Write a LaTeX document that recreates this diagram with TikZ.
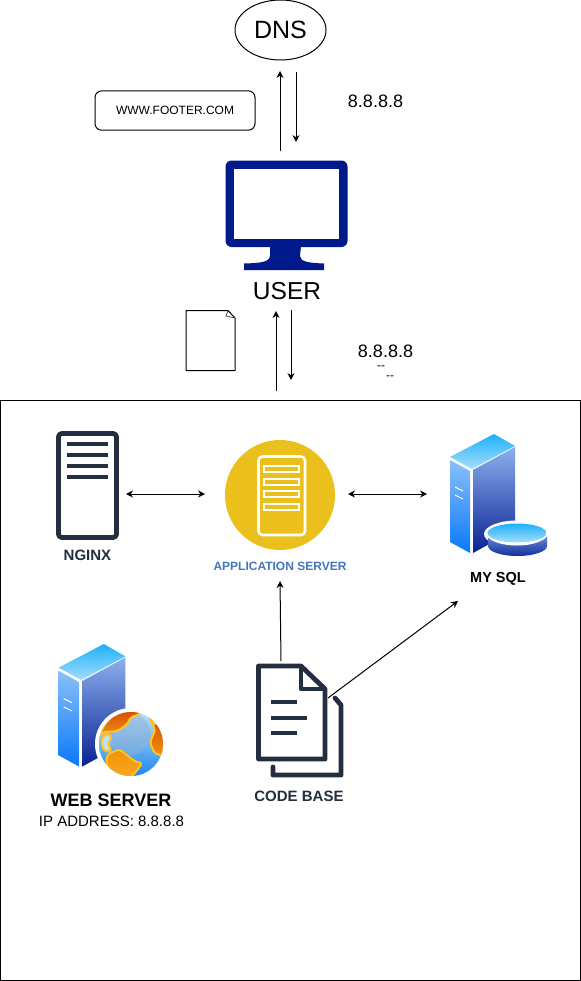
\documentclass[tikz,border=0pt]{standalone}
\usepackage{fontspec}
\setmainfont{Liberation Sans}
\usetikzlibrary{arrows.meta,shapes.geometric,calc}
\definecolor{ink}{HTML}{232F3E}
\definecolor{navy}{HTML}{001A8C}
\definecolor{gold}{HTML}{EBBF1C}
\definecolor{appblue}{HTML}{4277BB}
\definecolor{landedge}{HTML}{FFC21E}
\definecolor{topA}{HTML}{1EB0FA}
\definecolor{topB}{HTML}{A6DEFC}
\definecolor{leftA}{HTML}{8AC0FA}
\definecolor{leftB}{HTML}{0A78F8}
\definecolor{rightA}{HTML}{8CB0EE}
\definecolor{rightB}{HTML}{0A2292}
\definecolor{cylA}{HTML}{6E90DA}
\definecolor{cylB}{HTML}{12309C}
\definecolor{seaA}{HTML}{C0E0F6}
\definecolor{seaB}{HTML}{1E88F0}
\definecolor{seaC}{HTML}{8FB0D4}
\definecolor{landA}{HTML}{D64C04}
\definecolor{landB}{HTML}{F0920F}
\definecolor{landC}{HTML}{FBA81A}
\newcommand{\px}[1]{\fontsize{\the\dimexpr #1pt*3/4\relax}{\the\dimexpr #1pt\relax}\selectfont}
\tikzset{
  x=0.75pt,y=-0.75pt,
  lbl/.style={inner sep=0pt,align=center,text=black},
  conn/.style={draw=black,line width=0.75pt,-{Stealth[length=5.2pt,width=5.2pt]}},
  biconn/.style={draw=black,line width=0.75pt,{Stealth[length=5.2pt,width=5.2pt]}-{Stealth[length=5.2pt,width=5.2pt]}},
  inkline/.style={draw=ink,line width=3.6pt,line join=round},
  inkbar/.style={draw=ink,line width=3.6pt},
  land/.style={draw=landedge,line width=1.5pt,line join=round,rounded corners=1.5pt},
  serverpic/.pic={
    \path[top color=topA,bottom color=topB] (44,0) -- (65,12) -- (22,35) -- (0,23) -- cycle;
    \path[top color=leftA,bottom color=leftB] (0,26) -- (20,37) -- (20,119) -- (0,108) -- cycle;
    \path[top color=rightA,bottom color=rightB] (23,36) -- (65,13) -- (65,96) -- (23,119) -- cycle;
    \draw[white,line width=0.8pt] (5,53) -- (13,57) (5,61) -- (13,65);
  }
}
\begin{document}
\begin{tikzpicture}
\useasboundingbox (0,0) rectangle (581,981);
\path[fill=white] (0,0) rectangle (581,981);
\clip (0,0) rectangle (581,981);

% DNS
\node[draw=black,line width=0.75pt,ellipse,minimum width=68.25pt,minimum height=45pt,inner sep=0pt,font=\px{25}] (dns) at (280.5,30) {DNS};
% Domain label
\node[draw=black,line width=0.75pt,rounded corners=5pt,minimum width=120pt,minimum height=29.5pt,inner sep=0pt,font=\px{12}] (www) at (175,110.5) {WWW.FOOTER.COM};
\node[lbl,font=\px{18}] (ipa) at (375.5,101) {8.8.8.8};

% Monitor
\node[inner sep=0pt,minimum width=92.25pt,minimum height=82pt] (user) at (286.5,215.5) {};
\path[fill=navy,rounded corners=4.5pt] (225.5,160.5) rectangle (347.5,247);
\path[fill=white] (234,169) rectangle (339,239);
\path[fill=navy] (270,246) -- (301,246) -- (300,256) .. controls (300,262) and (310,263) .. (324,263.5) -- (324,270) -- (244,270) -- (244,263.5) .. controls (262,263) and (270,262) .. (270,255) -- cycle;
\node[lbl,font=\px{24.5}] (userlbl) at (287,291) {USER};

% Page icon
\node[inner sep=0pt,minimum width=36.75pt,minimum height=45pt] (page) at (210.5,340) {};
\draw[black,line width=0.75pt,fill=white,line join=round] (186,310.5) -- (228,310.5) -- (235,318) -- (235,370.5) -- (186,370.5) -- cycle;
\draw[black!70,line width=0.6pt,line join=round] (228,310.5) -- (226,316) -- (235,318);

\node[lbl,font=\px{18}] (ipb) at (385.5,351) {8.8.8.8};
\node[lbl,font=\px{12}] (dasha) at (381,368) {-{}-};
\node[lbl,font=\px{12}] (dashb) at (390,378) {-{}-};

% Frame
\node[draw=black,line width=0.75pt,inner sep=0pt,minimum width=435pt,minimum height=434.5pt] (frame) at (290.5,690.5) {};

% NGINX
\node[inner sep=0pt,minimum width=47.25pt,minimum height=81.75pt] (nginx) at (87.5,485.5) {};
\draw[inkline,rounded corners=2.5pt] (58.5,433.5) rectangle (116.5,537.5);
\draw[inkbar] (66.5,444) -- (108,444) (66.5,455) -- (108,455) (66.5,466) -- (108,466) (66.5,477) -- (108,477);
\node[lbl,text=ink,font=\px{15}\bfseries] (nginxlbl) at (87.5,555) {NGINX};

% Application server
\node[circle,fill=gold,inner sep=0pt,minimum size=82.5pt] (app) at (280,495) {};
\draw[white,line width=1.9pt,rounded corners=3pt] (258.5,456.5) rectangle (305,535);
\foreach \yy in {465,478,490,503}{
  \draw[white,line width=1.9pt] (264,\yy+1) rectangle (299,\yy+7);
}
\node[lbl,text=appblue,font=\px{12}\bfseries] (applbl) at (280,566) {APPLICATION SERVER};

% MySQL
\node[inner sep=0pt,minimum width=73.5pt,minimum height=91.5pt] (sql) at (499,495) {};
\pic at (450,434) {serverpic};
\path[fill=white] (517,534) ellipse [x radius=33,y radius=13.5];
\path[top color=cylA,bottom color=cylB] (488,534) -- (488,546) arc[start angle=180,end angle=0,x radius=29.5,y radius=10] -- (547,534) -- cycle;
\path[fill=white] (486,533) arc[start angle=180,end angle=0,x radius=31,y radius=12.5] -- cycle;
\path[top color=topA,bottom color=topB] (517,533) ellipse [x radius=29.5,y radius=9.5];
\node[lbl,font=\px{14.5}\bfseries] (sqllbl) at (498,579) {MY SQL};

% Web server
\node[inner sep=0pt,minimum width=79pt,minimum height=100pt] (web) at (110,711) {};
\pic[scale=1.03] at (58.5,644) {serverpic};
\path[fill=white] (131,744) circle[radius=36];
\begin{scope}[shift={(40,630)},x=0.25pt,y=-0.25pt]
  \path[top color=seaA,bottom color=seaB] (273,342) circle[radius=96];
  \begin{scope}
    \clip (273,342) circle[radius=96];
    \path[fill=seaC,opacity=.5] (268,312) circle[radius=64];
    \path[land,top color=landA,bottom color=landB] (178,318) -- (190,290) -- (212,262) -- (250,240) -- (305,240) -- (300,252) -- (272,262) -- (262,282) -- (238,300) -- (216,306) -- (195,304) -- cycle;
    \path[land,fill=seaA] (186,322) -- (204,310) -- (216,324) -- (204,340) -- (214,362) -- (196,366) -- (184,345) -- cycle;
    \path[land,top color=landB,bottom color=landC] (204,372) -- (238,358) -- (264,378) -- (284,394) -- (306,400) -- (292,420) -- (270,445) -- (215,432) -- (198,395) -- cycle;
    \path[land,top color=landA,bottom color=landB] (328,262) -- (344,285) -- (356,272) -- (375,320) -- (368,378) -- (342,368) -- (330,336) -- (346,300) -- cycle;
    \path[fill=landA] (300,236) -- (322,258) -- (336,258) -- (345,236) -- cycle;
  \end{scope}
\end{scope}
\node[lbl,font=\px{18}\bfseries] (weblbl) at (111,800) {WEB SERVER};
\node[lbl,font=\px{15}] (ipc) at (111.5,821) {IP ADDRESS: 8.8.8.8};

% Code base
\node[inner sep=0pt,minimum width=64.5pt,minimum height=84.75pt] (code) at (300,720.5) {};
\draw[inkline] (258.5,666) -- (301,666) -- (325,689) -- (325,759) -- (258.5,759) -- cycle;
\draw[inkline] (301,666) -- (301,689) -- (325,689);
\draw[inkline,line cap=round] (335,698) -- (341,705) -- (341,775) -- (273,775) -- (273,767);
\draw[inkbar] (271,702) -- (297,702) (271,718) -- (307,718) (271,733) -- (297,733);
\node[lbl,text=ink,font=\px{15}\bfseries] (codelbl) at (299,796) {CODE BASE};

% Connector ends
\coordinate (userUp) at (280,151);
\coordinate (dnsIn) at (280,71);
\coordinate (dnsOut) at (296,72);
\coordinate (userIn) at (296,142);
\coordinate (frameUp) at (276,391);
\coordinate (userLblIn) at (276,311);
\coordinate (userLblOut) at (291,310);
\coordinate (frameIn) at (291,380);
\coordinate (nginxE) at (126,494);
\coordinate (appW) at (205,494);
\coordinate (appE) at (348,494);
\coordinate (sqlW) at (427,494);
\coordinate (codeN) at (281,661);
\coordinate (appS) at (280,581);
\coordinate (codeE) at (328,698);
\coordinate (sqlS) at (458,601);

\draw[conn] (userUp) -- (dnsIn);
\draw[conn] (dnsOut) -- (userIn);
\draw[conn] (frameUp) -- (userLblIn);
\draw[conn] (userLblOut) -- (frameIn);
\draw[biconn] (nginxE) -- (appW);
\draw[biconn] (appE) -- (sqlW);
\draw[conn] (codeN) -- (appS);
\draw[conn] (codeE) -- (sqlS);
\end{tikzpicture}
\end{document}
